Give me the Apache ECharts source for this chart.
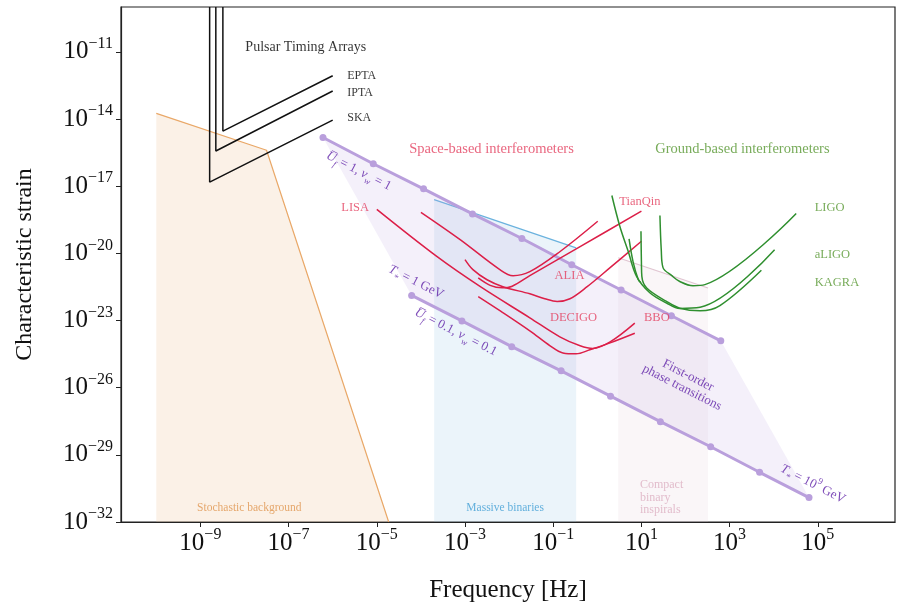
<!DOCTYPE html>
<html lang="en">
<head>
<meta charset="UTF-8">
<title>Characteristic strain vs frequency</title>
<style>
    * { margin: 0; padding: 0; }
    #chart { width: 898px; height: 609px; background: #fff; }
</style>
<script src="https://cdn.jsdelivr.net/npm/echarts@6/dist/echarts.min.js"></script>
</head>
<body>
<div id="chart"></div>
<script>
// all values are log10: x = log10(f / Hz), y = log10(h_c)
var xTicks = [-9, -7, -5, -3, -1, 1, 3, 5];
var yTicks = [-32, -29, -26, -23, -20, -17, -14, -11];

// pulsar timing arrays: [x of vertical leg, bottom of leg, end x, end y]
var ptaNames = ['EPTA', 'IPTA', 'SKA'];
var ptaLegX = [-8.49, -8.65, -8.79];
var ptaLegY = [-14.54, -15.43, -16.82];
var ptaEndX = [-6.0, -6.0, -6.0];
var ptaEndY = [-12.07, -12.75, -14.05];

// stochastic background outline
var sbX = [-10.0, -7.5, -4.73];
var sbY = [-13.75, -15.4, -32];

// massive binaries band (top edge)
var mbX = [-3.70, -0.48];
var mbY = [-17.6, -19.76];

// compact binary inspirals band (top edge)
var cbX = [0.475, 2.51];
var cbY = [-20.2, -21.55];

// phase transition lines
var ptUpperX = [-6.22, -5.08, -3.94, -2.83, -1.71, -0.58, 0.54, 1.68, 2.80];
var ptUpperY = [-14.83, -16.0, -17.12, -18.24, -19.34, -20.51, -21.64, -22.79, -23.91];
var ptLowerX = [-4.21, -3.07, -1.94, -0.82, 0.30, 1.43, 2.57, 3.68, 4.80];
var ptLowerY = [-21.88, -23.02, -24.17, -25.25, -26.38, -27.52, -28.64, -29.78, -30.91];

// space-based sensitivity curves
var lisaX = [-5.0, -3.64, -2.66, -1.53, -0.85, -0.39, -0.10, 0.29, 0.85];
var lisaY = [-18.04, -20.14, -21.48, -22.88, -23.73, -24.13, -24.25, -23.96, -23.12];
var spaceBX = [-4.0, -3.11, -2.21, -1.91, -1.53, -0.85, 0.01];
var spaceBY = [-18.17, -19.39, -20.73, -21.0, -20.82, -19.93, -18.57];
var aliaX = [-3.0, -2.82, -2.50, -2.14, -1.53, -1.19, -0.91, -0.62, -0.23, 0.29, 1.0];
var aliaY = [-20.28, -20.73, -21.18, -21.49, -21.81, -22.03, -22.15, -22.03, -21.49, -20.64, -19.46];
var tianqinX = [-2.70, -2.43, -2.16, -1.93, -1.53, -0.39, 1.0];
var tianqinY = [-21.1, -21.43, -21.54, -21.47, -21.0, -19.70, -18.12];
var bboX = [-2.70, -2.20, -1.53, -1.07, -0.78, -0.48, -0.17, 0.29, 0.85];
var bboY = [-21.93, -22.57, -23.46, -24.13, -24.45, -24.49, -24.31, -24.0, -23.57];

// ground-based sensitivity curves
var ligoX = [1.42, 1.45, 1.49, 1.69, 1.87, 2.17, 2.44, 4.51];
var ligoY = [-18.31, -19.84, -20.64, -21.0, -21.26, -21.45, -21.40, -18.22];
var aligoX = [0.33, 0.51, 0.70, 0.89, 1.19, 1.57, 1.87, 2.33, 4.02];
var aligoY = [-17.42, -18.79, -19.91, -21.03, -21.76, -22.22, -22.46, -22.41, -19.84];
var kagraX = [0.72, 0.81, 0.93, 0.99, null, 0.99, 1.0, 1.01, 1.12, 1.57, 1.87, 2.33, 2.78, 3.72];
var kagraY = [-19.36, -20.37, -21.18, -21.31, null, -19.02, -20.37, -21.03, -21.55, -22.15, -22.45, -22.57, -22.34, -20.76];

var chart = echarts.init(document.getElementById('chart'));

var SERIF = "'Liberation Serif', 'DejaVu Serif', serif";
var RED = '#dc1f48', REDTXT = '#e3405f', GREEN = '#2f8f2f', GREENTXT = '#559630';
var PURPLE = '#b99fdc', PURPLETXT = '#5f22a8';

function pairs(xs, ys) {
    return xs.map(function (x, i) { return x === null ? null : [x, ys[i]]; });
}

function tickFmt(v) {
    return '{b|10}{s|' + (v < 0 ? '\u2212' : '') + Math.abs(v) + '}';
}
var tickRich = {
    b: { fontFamily: SERIF, fontSize: 25, color: '#111', lineHeight: 32 },
    s: { fontFamily: SERIF, fontSize: 16, color: '#111', lineHeight: 15, verticalAlign: 'top' }
};

var mathRich = {
    m: { fontFamily: SERIF, fontSize: 13, color: PURPLETXT, lineHeight: 20 },
    i: { fontFamily: SERIF, fontSize: 13, color: PURPLETXT, fontStyle: 'italic', lineHeight: 20 },
    sub: { fontFamily: SERIF, fontSize: 9, color: PURPLETXT, fontStyle: 'italic', lineHeight: 9, verticalAlign: 'bottom' },
    sup: { fontFamily: SERIF, fontSize: 9, color: PURPLETXT, lineHeight: 9, verticalAlign: 'top' }
};

// text annotations: [x, y, text, colour, size, rotate, align]
var notes = [
    [-7.98, -10.79, 'Pulsar Timing Arrays', '#000', 14, 0, 'left'],
    [-5.67, -12.09, 'EPTA', '#000', 12, 0, 'left'],
    [-5.67, -12.85, 'IPTA', '#000', 12, 0, 'left'],
    [-5.67, -13.97, 'SKA', '#000', 12, 0, 'left'],
    [-2.40, -15.36, 'Space-based interferometers', REDTXT, 14.5, 0, 'center'],
    [3.29, -15.36, 'Ground-based interferometers', GREENTXT, 14.5, 0, 'center'],
    [-5.49, -17.95, 'LISA', REDTXT, 12.5, 0, 'center'],
    [0.966, -17.69, 'TianQin', REDTXT, 12.5, 0, 'center'],
    [-0.63, -21.0, 'ALIA', REDTXT, 12.5, 0, 'center'],
    [-0.54, -22.88, 'DECIGO', REDTXT, 12.5, 0, 'center'],
    [1.35, -22.88, 'BBO', REDTXT, 12.5, 0, 'center'],
    [4.93, -17.95, 'LIGO', GREENTXT, 12.5, 0, 'left'],
    [4.93, -20.06, 'aLIGO', GREENTXT, 12.5, 0, 'left'],
    [4.93, -21.31, 'KAGRA', GREENTXT, 12.5, 0, 'left'],
    [-7.89, -31.39, 'Stochastic background', '#e0954d', 11.5, 0, 'center'],
    [-2.09, -31.39, 'Massive binaries', '#3f9ed4', 11.5, 0, 'center'],
    [0.966, -30.9, 'Compact\nbinary\ninspirals', '#dcaec0', 12, 0, 'left'],
    [1.99, -25.73, 'First-order\nphase transitions', PURPLETXT, 13, -27, 'center'],
    [-5.41, -16.33, '{i|U\u0305}{sub|f}{m| = 1, }{i|v}{sub|w}{m| = 1}', PURPLETXT, 13, -27, 'center'],
    [-4.11, -21.28, '{i|T}{sub|*}{m| = 1 GeV}', PURPLETXT, 13, -27, 'center'],
    [-3.21, -23.52, '{i|U\u0305}{sub|f}{m| = 0.1, }{i|v}{sub|w}{m| = 0.1}', PURPLETXT, 13, -27, 'center'],
    [4.89, -30.31, '{i|T}{sub|*}{m| = 10}{sup|9}{m| GeV}', PURPLETXT, 13, -27, 'center']
];

function curve(name, xs, ys, color) {
    return {
        name: name, type: 'line', data: pairs(xs, ys), smooth: 0.35,
        showSymbol: false, connectNulls: false, z: 5,
        lineStyle: { color: color, width: 1.5 }
    };
}

var series = [];

// shaded regions
series.push({
    type: 'line', data: pairs(sbX, sbY), showSymbol: false, z: 1,
    lineStyle: { color: '#e9a868', width: 1.2 },
    areaStyle: { origin: 'start', color: 'rgba(238,195,155,0.34)' }
});
series.push({
    type: 'line', data: pairs(mbX, mbY), showSymbol: false, z: 1,
    lineStyle: { color: '#6ab2de', width: 1.2 },
    areaStyle: { origin: 'start', color: 'rgba(135,190,225,0.24)' }
});
series.push({
    type: 'line', data: pairs(cbX, cbY), showSymbol: false, z: 1,
    lineStyle: { color: 'rgba(205,160,180,0.6)', width: 1.2 },
    areaStyle: { origin: 'start', color: 'rgba(225,195,210,0.22)' }
});
series.push({
    type: 'custom', z: 2, silent: true,
    data: [[ptUpperX[0], ptUpperY[0]]],
    renderItem: function (params, api) {
        var pts = [];
        for (var i = 0; i < ptUpperX.length; i++) pts.push(api.coord([ptUpperX[i], ptUpperY[i]]));
        for (var j = ptLowerX.length - 1; j >= 0; j--) pts.push(api.coord([ptLowerX[j], ptLowerY[j]]));
        return { type: 'polygon', shape: { points: pts }, style: { fill: 'rgba(185,160,225,0.16)' } };
    }
});

// pulsar timing arrays
for (var k = 0; k < ptaNames.length; k++) {
    series.push({
        name: ptaNames[k], type: 'line', showSymbol: false, z: 4,
        data: [[ptaLegX[k], -9], [ptaLegX[k], ptaLegY[k]], [ptaEndX[k], ptaEndY[k]]],
        lineStyle: { color: '#111', width: 1.5 }
    });
}

// phase transition lines
[[ptUpperX, ptUpperY], [ptLowerX, ptLowerY]].forEach(function (p) {
    series.push({
        type: 'line', data: pairs(p[0], p[1]), z: 3,
        symbol: 'circle', symbolSize: 7,
        itemStyle: { color: PURPLE },
        lineStyle: { color: PURPLE, width: 3 }
    });
});

series.push(curve('LISA', lisaX, lisaY, RED));
series.push(curve('space-b', spaceBX, spaceBY, RED));
series.push(curve('ALIA', aliaX, aliaY, RED));
series.push(curve('TianQin', tianqinX, tianqinY, RED));
series.push(curve('BBO', bboX, bboY, RED));
series.push(curve('LIGO', ligoX, ligoY, GREEN));
series.push(curve('aLIGO', aligoX, aligoY, GREEN));
series.push(curve('KAGRA', kagraX, kagraY, GREEN));

// annotations
series.push({
    type: 'scatter', symbolSize: 0, silent: true, z: 10,
    data: notes.map(function (n) {
        return {
            value: [n[0], n[1]],
            label: {
                show: true, position: n[6] === 'left' ? 'right' : 'inside', distance: 0,
                formatter: n[2], color: n[3], fontSize: n[4], rotate: n[5],
                fontFamily: SERIF, align: n[6], verticalAlign: 'middle',
                lineHeight: n[4] + 0.5, rich: mathRich
            }
        };
    })
});

var option = {
    animation: false,
    grid: { left: 121, right: 3, top: 7, bottom: 87, show: true, borderColor: '#222', borderWidth: 1.2 },
    xAxis: {
        type: 'value', min: -10.8, max: 6.75,
        name: 'Frequency [Hz]', nameLocation: 'middle', nameGap: 56,
        nameTextStyle: { fontFamily: SERIF, fontSize: 25, color: '#111' },
        splitLine: { show: false },
        axisLine: { onZero: false, lineStyle: { color: '#222', width: 1.2 } },
        axisTick: { customValues: xTicks, length: 5, lineStyle: { color: '#222' } },
        axisLabel: { customValues: xTicks, margin: 5, formatter: tickFmt, rich: tickRich }
    },
    yAxis: {
        type: 'value', min: -32, max: -9,
        name: 'Characteristic strain', nameLocation: 'middle', nameGap: 84,
        nameTextStyle: { fontFamily: SERIF, fontSize: 24, color: '#111' },
        splitLine: { show: false },
        axisLine: { onZero: false, lineStyle: { color: '#222', width: 1.2 } },
        axisTick: { customValues: yTicks, length: 5, lineStyle: { color: '#222' } },
        axisLabel: { customValues: yTicks, margin: 8, formatter: tickFmt, rich: tickRich }
    },
    series: series
};

chart.setOption(option);
</script>
</body>
</html>
